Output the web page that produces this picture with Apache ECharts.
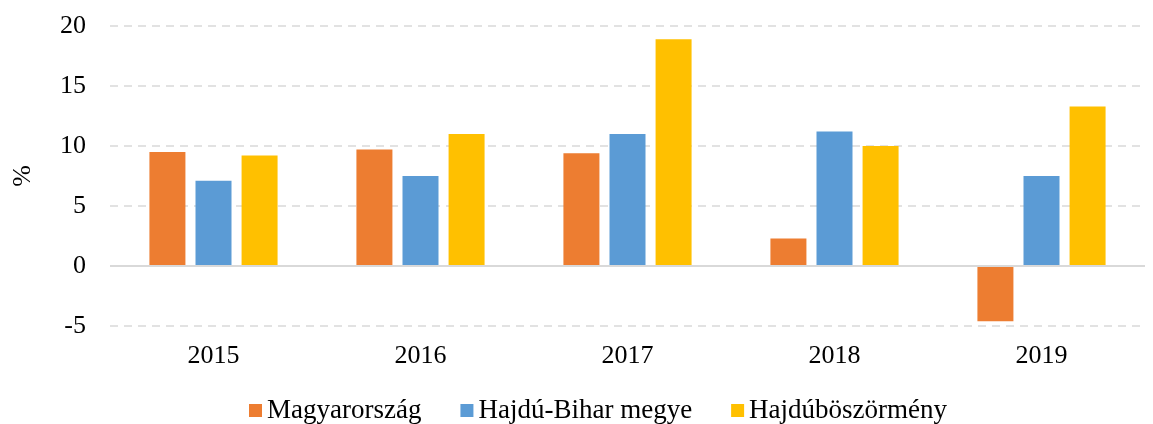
<!DOCTYPE html>
<html>
<head>
<meta charset="utf-8">
<script src="https://cdn.jsdelivr.net/npm/echarts@6/dist/echarts.min.js"></script>
<style>
  html, body { margin: 0; padding: 0; background: #fff; }
  #chart { width: 1153px; height: 424px; }
</style>
</head>
<body>
<div id="chart"></div>
<script>
const years = ['2015', '2016', '2017', '2018', '2019']
const magyarorszag = [9.5, 9.7, 9.4, 2.3, -4.6]
const hajduBihar = [7.1, 7.5, 11.0, 11.2, 7.5]
const hajduboszormeny = [9.2, 11.0, 18.9, 10.0, 13.3]

const font = '"Liberation Serif", "Times New Roman", serif'

const c = echarts.init(document.getElementById('chart'))
c.setOption({
  animation: false,
  textStyle: { fontFamily: font },
  color: ['#ED7D31', '#5B9BD5', '#FFC000'],
  grid: { left: 110, right: 8, top: 26, bottom: 98 },
  legend: {
    top: 392, left: 244, icon: 'rect', itemWidth: 13, itemHeight: 13, itemGap: 39,
    textStyle: { fontFamily: font, fontSize: 27, color: '#000' }
  },
  xAxis: {
    type: 'category', data: years,
    axisLine: { show: false, onZero: false },
    axisTick: { show: false },
    axisLabel: { fontFamily: font, fontSize: 26, color: '#000', margin: 17 }
  },
  yAxis: {
    type: 'value', min: -5, max: 20, interval: 5,
    name: '%', nameLocation: 'middle', nameGap: 74, nameRotate: 90,
    nameTextStyle: { fontFamily: font, fontSize: 26, color: '#000' },
    axisLine: { show: false }, axisTick: { show: false },
    axisLabel: { fontFamily: font, fontSize: 26, color: '#000', margin: 24 },
    splitLine: { lineStyle: { color: '#d9d9d9', type: [8, 6], width: 1.5 } }
  },
  series: [
    {
      name: 'Magyarország', type: 'bar', data: magyarorszag, barWidth: 36, barGap: '28%',
      markLine: {
        silent: true, symbol: 'none', label: { show: false },
        lineStyle: { color: '#d9d9d9', type: 'solid', width: 2 },
        data: [{ yAxis: 0 }]
      }
    },
    { name: 'Hajdú-Bihar megye', type: 'bar', data: hajduBihar, barWidth: 36, barGap: '28%' },
    { name: 'Hajdúböszörmény', type: 'bar', data: hajduboszormeny, barWidth: 36, barGap: '28%' }
  ]
})
</script>
</body>
</html>
